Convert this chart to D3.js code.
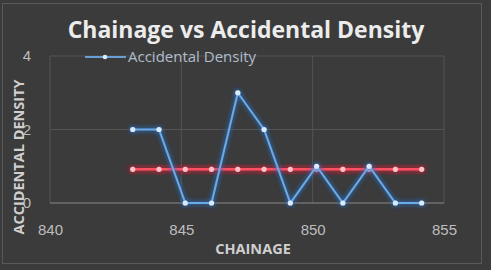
<!DOCTYPE html>
<meta charset="utf-8">
<head>
  <meta charset="utf-8">
  <title>Chainage vs Accidental Density</title>
</head>
<style>
body { margin: 0; background: #3b3b3b; }
svg { display: block; font-family: 'Open Sans', 'DejaVu Sans', sans-serif; }
.tick text { fill: #bdbdbd; font-size: 15px; }
</style>
<body>
<div class='chart'></div>

<script src="https://d3js.org/d3.v7.min.js"></script>
<script>

// chart data
var chainage = [843.15, 844.15, 845.15, 846.15, 847.15, 848.15, 849.15, 850.15, 851.15, 852.15, 853.15, 854.15]
var density = [2, 2, 0, 0, 3, 2, 0, 1, 0, 1, 0, 0]
var average = [0.917, 0.917, 0.917, 0.917, 0.917, 0.917, 0.917, 0.917, 0.917, 0.917, 0.917, 0.917]
var xTicks = [840, 845, 850, 855]
var yTicks = [0, 2, 4]

var width = 491
var height = 270

var svg = d3.select('.chart')
    .append('svg')
    .attr('width', width)
    .attr('height', height)

// glow filters for the two series
var defs = svg.append('defs')
function glow(id, color, sd) {
  var f = defs.append('filter').attr('id', id)
    .attr('x', '-20%').attr('y', '-50%').attr('width', '140%').attr('height', '200%')
  f.append('feGaussianBlur').attr('in', 'SourceGraphic').attr('stdDeviation', sd).attr('result', 'b')
  f.append('feFlood').attr('flood-color', color).attr('flood-opacity', 0.85)
  f.append('feComposite').attr('in2', 'b').attr('operator', 'in').attr('result', 'g')
  var m = f.append('feMerge')
  m.append('feMergeNode').attr('in', 'g')
  m.append('feMergeNode').attr('in', 'g')
  m.append('feMergeNode').attr('in', 'SourceGraphic')
}
glow('glowBlue', '#2f6fc0', 2.5)
glow('glowRed', '#e0203a', 3)

// background and frame
svg.append('rect').attr('width', width).attr('height', height).attr('fill', '#3b3b3b')
svg.append('rect')
    .attr('x', 2.5).attr('y', 3.5).attr('width', 479).attr('height', 260)
    .attr('fill', 'none').attr('stroke', '#5a5a5a')

var x = d3.scaleLinear().domain([840, 855]).range([50, 444])
var y = d3.scaleLinear().domain([0, 4]).range([203, 56])

// gridlines
svg.append('g').selectAll('line.hg')
    .data(yTicks.filter(function (d) { return d > 0 }))
    .enter().append('line')
    .attr('x1', x(840)).attr('x2', x(855))
    .attr('y1', function (d) { return y(d) }).attr('y2', function (d) { return y(d) })
    .attr('stroke', '#545454')
svg.append('g').selectAll('line.vg')
    .data(xTicks)
    .enter().append('line')
    .attr('x1', function (d) { return x(d) }).attr('x2', function (d) { return x(d) })
    .attr('y1', y(4)).attr('y2', y(0))
    .attr('stroke', '#545454')

// bottom axis line
svg.append('line')
    .attr('x1', x(840)).attr('x2', x(855))
    .attr('y1', y(0)).attr('y2', y(0))
    .attr('stroke', '#8a8a8a').attr('stroke-width', 1.2)

// axes (labels only)
var xAxis = svg.append('g')
    .attr('transform', 'translate(0,' + (y(0) + 18) + ')')
    .call(d3.axisBottom(x).tickValues(xTicks).tickSize(0).tickFormat(d3.format('d')))
xAxis.select('.domain').remove()

var yAxis = svg.append('g')
    .attr('transform', 'translate(' + (x(840) - 16) + ',0)')
    .call(d3.axisLeft(y).tickValues(yTicks).tickSize(0).tickFormat(d3.format('d')))
yAxis.select('.domain').remove()

// average line (red)
var line = d3.line()
    .x(function (d, i) { return x(chainage[i]) })
    .y(function (d) { return y(d) })

var red = svg.append('g').attr('filter', 'url(#glowRed)')
red.append('path')
    .datum(average)
    .attr('d', line)
    .attr('fill', 'none')
    .attr('stroke', '#ff5064')
    .attr('stroke-width', 2.4)
red.selectAll('circle')
    .data(average)
    .enter().append('circle')
    .attr('cx', function (d, i) { return x(chainage[i]) })
    .attr('cy', function (d) { return y(d) })
    .attr('r', 2.6)
    .attr('fill', '#ffc0c8')

// density line (blue)
var blue = svg.append('g').attr('filter', 'url(#glowBlue)')
blue.append('path')
    .datum(density)
    .attr('d', line)
    .attr('fill', 'none')
    .attr('stroke', '#6aaae8')
    .attr('stroke-width', 2)
blue.selectAll('circle')
    .data(density)
    .enter().append('circle')
    .attr('cx', function (d, i) { return x(chainage[i]) })
    .attr('cy', function (d) { return y(d) })
    .attr('r', 2.6)
    .attr('fill', '#d8ecff')

// title
svg.append('text')
    .attr('x', 246).attr('y', 38)
    .attr('text-anchor', 'middle')
    .attr('fill', '#ececec')
    .style('font-size', '23px').style('font-weight', 'bold')
    .text('Chainage vs Accidental Density')

// legend
svg.append('line')
    .attr('x1', 85).attr('x2', 126).attr('y1', 57).attr('y2', 57)
    .attr('stroke', '#6a9ed6').attr('stroke-width', 2)
svg.append('circle').attr('cx', 105).attr('cy', 57).attr('r', 2.3).attr('fill', '#d8ecff')
svg.append('text')
    .attr('x', 128).attr('y', 62)
    .attr('fill', '#b0bccc')
    .style('font-size', '15px')
    .text('Accidental Density')

// axis titles
svg.append('text')
    .attr('x', 253).attr('y', 254)
    .attr('text-anchor', 'middle')
    .attr('fill', '#cfcfcf')
    .style('font-size', '14.5px').style('font-weight', 'bold')
    .text('CHAINAGE')

svg.append('text')
    .attr('transform', 'translate(24,157) rotate(-90)')
    .attr('text-anchor', 'middle')
    .attr('fill', '#cfcfcf')
    .style('font-size', '14.5px').style('font-weight', 'bold')
    .text('ACCIDENTAL DENSITY')

</script>
</body>
